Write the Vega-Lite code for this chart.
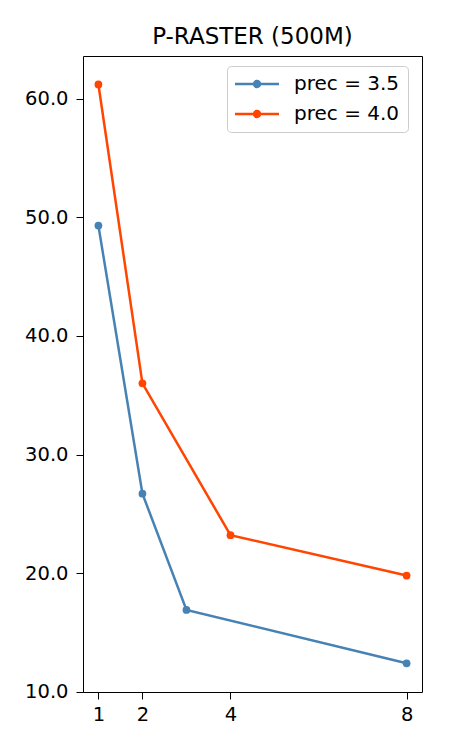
{
  "$schema": "https://vega.github.io/schema/vega-lite/v6.json",
  "width": 339,
  "height": 636,
  "autosize": "none",
  "padding": {"left": 83, "top": 56, "right": 28, "bottom": 58},
  "background": "white",
  "title": {"text": "P-RASTER (500M)", "fontSize": 23, "font": "DejaVu Sans", "fontWeight": "normal", "color": "black", "offset": 7},
  "data": {"values": [
    {"threads": 1, "time": 49.3, "series": "prec = 3.5"},
    {"threads": 2, "time": 26.7, "series": "prec = 3.5"},
    {"threads": 3, "time": 16.9, "series": "prec = 3.5"},
    {"threads": 8, "time": 12.4, "series": "prec = 3.5"},
    {"threads": 1, "time": 61.2, "series": "prec = 4.0"},
    {"threads": 2, "time": 36.0, "series": "prec = 4.0"},
    {"threads": 4, "time": 23.2, "series": "prec = 4.0"},
    {"threads": 8, "time": 19.8, "series": "prec = 4.0"}
  ]},
  "encoding": {
    "x": {"field": "threads", "type": "quantitative", "scale": {"domain": [0.65, 8.35], "nice": false, "zero": false}, "axis": {"values": [1, 2, 4, 8], "format": "d", "title": null, "labelPadding": 6}},
    "y": {"field": "time", "type": "quantitative", "scale": {"domain": [9.98, 63.6], "nice": false, "zero": false}, "axis": {"values": [10, 20, 30, 40, 50, 60], "format": ".1f", "title": null, "labelPadding": 8}},
    "color": {"field": "series", "type": "nominal", "scale": {"domain": ["prec = 3.5", "prec = 4.0"], "range": ["#4682b4", "#ff4500"]}, "legend": {
        "title": null,
        "orient": "none",
        "legendX": 144,
        "legendY": 10,
        "padding": 8,
        "strokeColor": "#cccccc",
        "fillColor": "white",
        "cornerRadius": 4,
        "labelFontSize": 20,
        "labelFont": "DejaVu Sans",
        "labelColor": "black",
        "symbolType": "M-1,-0.13L3.4,-0.13L3.4,0.13L-1,0.13Z M1.62,0A0.42,0.42 0 1,1 0.78,0A0.42,0.42 0 1,1 1.62,0Z",
        "symbolSize": 400,
        "symbolStrokeWidth": 0,
        "symbolOpacity": 1,
        "labelOffset": 39,
        "rowPadding": 10
      }}
  },
  "layer": [
    {"mark": {"type": "line", "strokeWidth": 2.5}},
    {"mark": {"type": "point", "filled": true, "size": 60, "opacity": 1}}
  ],
  "config": {
    "view": {"stroke": "black", "strokeWidth": 1},
    "axis": {"grid": false, "domain": false, "tickColor": "black", "tickSize": 7, "tickWidth": 1, "labelFontSize": 19.5, "labelFont": "DejaVu Sans", "labelColor": "black"}
  }
}
